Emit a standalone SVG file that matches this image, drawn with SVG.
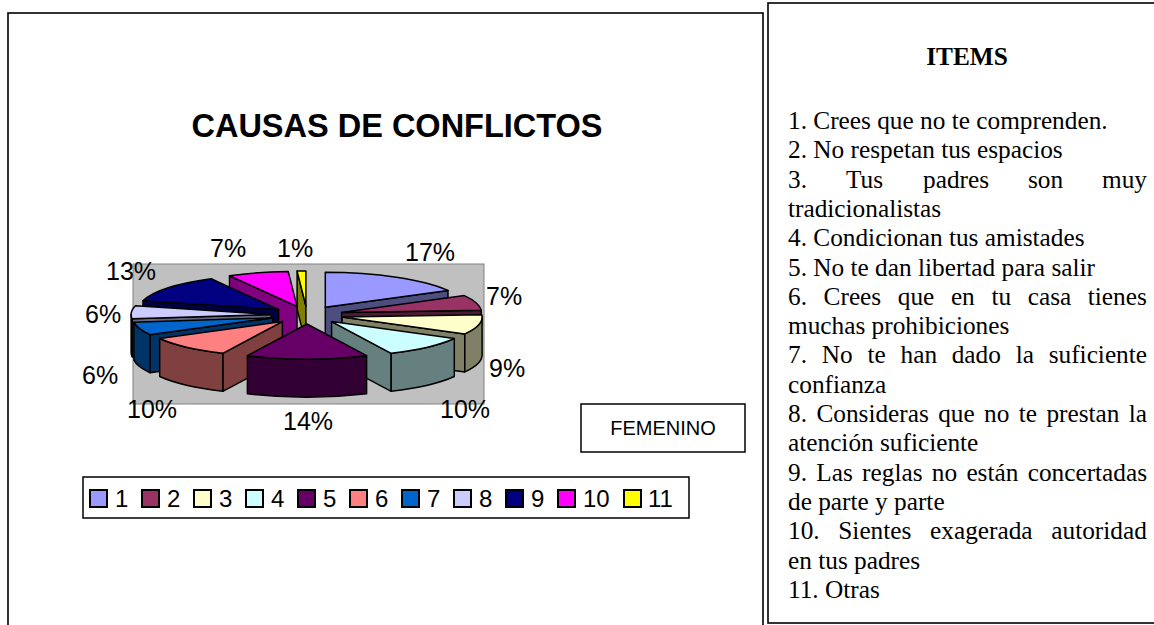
<svg xmlns="http://www.w3.org/2000/svg" width="1154" height="625" viewBox="0 0 1154 625">
<style>
.frame{fill:#fff;stroke:#000;stroke-width:1.6}
.title{font-family:"Liberation Sans",Arial,sans-serif;font-weight:bold;font-size:32.5px;fill:#000}
.lbl{font-family:"Liberation Sans",Arial,sans-serif;font-size:25px;fill:#000}
.leg{font-family:"Liberation Sans",Arial,sans-serif;font-size:24px;fill:#000}
.sw{stroke:#000;stroke-width:2}
.fem{font-family:"Liberation Sans",Arial,sans-serif;font-size:20px;fill:#000}
.items{font-family:"Liberation Serif","Times New Roman",serif;font-size:25.3px;fill:#000}
.ih{font-family:"Liberation Serif","Times New Roman",serif;font-size:25.3px;font-weight:bold;fill:#000}
.pie path,.pie polygon{stroke:#000;stroke-width:1.5;stroke-linejoin:round}
</style>
<rect width="1154" height="625" fill="#fff"/>
<g id="chart-frame"><rect class="frame" x="8" y="13" width="755" height="640"/></g>
<g id="items-frame"><rect class="frame" x="768" y="3" width="400" height="620"/></g>
<g id="title"><text class="title" x="397" y="137" text-anchor="middle">CAUSAS DE CONFLICTOS</text></g>
<g id="plot-area"><rect x="133" y="264" width="351" height="140" fill="#C0C0C0" stroke="#808080" stroke-width="1"/></g>
<g class="pie" id="pie">
<g id="slice-11"><polygon points="305.9,306 297.1,271.1 297.1,309.1 305.9,344" fill="#808000"/><path d="M305.9,306 L297.1,271.1 A140,35 0 0 1 305.9,271 Z" fill="#FFFF00"/></g>
<g id="slice-10"><polygon points="297,306.4 229.5,275.7 229.5,313.7 297,344.4" fill="#800080"/><path d="M297,306.4 L229.5,275.7 A140,35 0 0 1 288.2,271.5 Z" fill="#FF00FF"/></g>
<g id="slice-1"><polygon points="325.3,307.3 448,290.4 448,328.4 325.3,345.3" fill="#4D4D80"/><path d="M325.3,307.3 L325.3,272.3 A140,35 0 0 1 448,290.4 Z" fill="#9999FF"/></g>
<g id="slice-9"><polygon points="278.6,309.5 143,300.8 143,338.8 278.6,347.5" fill="#000040"/><path d="M278.6,309.5 L143,300.8 A140,35 0 0 1 211.1,278.8 Z" fill="#000080"/></g>
<g id="slice-2"><polygon points="341.6,312.5 481.3,310.3 481.3,348.3 341.6,350.5" fill="#4D1A33"/><path d="M341.6,312.5 L464.3,295.6 A140,35 0 0 1 481.3,310.3 Z" fill="#993366"/></g>
<g id="slice-8"><polygon points="271.1,314.4 132.2,318.8 132.2,356.8 271.1,352.4" fill="#666680"/><path d="M132.2,318.8 A140,35 0 0 1 131.1,314.4 L131.1,352.4 A140,35 0 0 0 132.2,356.8 Z" fill="#666680"/><path d="M271.1,314.4 L132.2,318.8 A140,35 0 0 1 135.5,305.7 Z" fill="#CCCCFF"/></g>
<g id="slice-3"><polygon points="342.1,317 464.8,333.9 464.8,371.9 342.1,355" fill="#808066"/><path d="M482.1,317 A140,35 0 0 1 464.8,333.9 L464.8,371.9 A140,35 0 0 0 482.1,355 Z" fill="#808066"/><path d="M342.1,317 L481.8,314.8 A140,35 0 0 1 464.8,333.9 Z" fill="#FFFFCC"/></g>
<g id="slice-7"><polygon points="272.8,317.8 150.1,334.7 150.1,372.7 272.8,355.8" fill="#003366"/><path d="M150.1,334.7 A140,35 0 0 1 133.9,322.2 L133.9,360.2 A140,35 0 0 0 150.1,372.7 Z" fill="#003366"/><path d="M272.8,317.8 L150.1,334.7 A140,35 0 0 1 133.9,322.2 Z" fill="#0066CC"/></g>
<g id="slice-4"><polygon points="331.6,321.6 391.2,353.3 391.2,391.3 331.6,359.6" fill="#668080"/><path d="M454.3,338.5 A140,35 0 0 1 391.2,353.3 L391.2,391.3 A140,35 0 0 0 454.3,376.5 Z" fill="#668080"/><path d="M331.6,321.6 L454.3,338.5 A140,35 0 0 1 391.2,353.3 Z" fill="#CCFFFF"/></g>
<g id="slice-6"><polygon points="282.4,321.6 222.8,353.3 222.8,391.3 282.4,359.6" fill="#804040"/><path d="M222.8,353.3 A140,35 0 0 1 159.7,338.5 L159.7,376.5 A140,35 0 0 0 222.8,391.3 Z" fill="#804040"/><path d="M282.4,321.6 L222.8,353.3 A140,35 0 0 1 159.7,338.5 Z" fill="#FF8080"/></g>
<g id="slice-5"><path d="M366.6,355.7 A140,35 0 0 1 247.4,355.7 L247.4,393.7 A140,35 0 0 0 366.6,393.7 Z" fill="#330033"/><path d="M307,324 L366.6,355.7 A140,35 0 0 1 247.4,355.7 Z" fill="#660066"/></g>
</g>
<g id="data-labels">
<text class="lbl" x="405" y="261">17%</text>
<text class="lbl" x="486" y="305">7%</text>
<text class="lbl" x="489" y="377">9%</text>
<text class="lbl" x="440" y="418">10%</text>
<text class="lbl" x="283" y="430">14%</text>
<text class="lbl" x="127" y="418">10%</text>
<text class="lbl" x="82" y="384">6%</text>
<text class="lbl" x="85" y="323">6%</text>
<text class="lbl" x="106" y="280">13%</text>
<text class="lbl" x="210" y="257">7%</text>
<text class="lbl" x="277" y="257">1%</text>
</g>
<g id="legend">
<rect x="83" y="477" width="606" height="41" fill="#fff" stroke="#000" stroke-width="1.5"/>
<rect class="sw" x="90" y="490" width="17" height="17" fill="#9999FF"/><text class="leg" x="115" y="507">1</text>
<rect class="sw" x="142" y="490" width="17" height="17" fill="#993366"/><text class="leg" x="167" y="507">2</text>
<rect class="sw" x="194" y="490" width="17" height="17" fill="#FFFFCC"/><text class="leg" x="219" y="507">3</text>
<rect class="sw" x="246" y="490" width="17" height="17" fill="#CCFFFF"/><text class="leg" x="271" y="507">4</text>
<rect class="sw" x="298" y="490" width="17" height="17" fill="#660066"/><text class="leg" x="323" y="507">5</text>
<rect class="sw" x="350" y="490" width="17" height="17" fill="#FF8080"/><text class="leg" x="375" y="507">6</text>
<rect class="sw" x="402" y="490" width="17" height="17" fill="#0066CC"/><text class="leg" x="427" y="507">7</text>
<rect class="sw" x="454" y="490" width="17" height="17" fill="#CCCCFF"/><text class="leg" x="479" y="507">8</text>
<rect class="sw" x="506" y="490" width="17" height="17" fill="#000080"/><text class="leg" x="531" y="507">9</text>
<rect class="sw" x="558" y="490" width="17" height="17" fill="#FF00FF"/><text class="leg" x="583" y="507">10</text>
<rect class="sw" x="624" y="490" width="17" height="17" fill="#FFFF00"/><text class="leg" x="648" y="507">11</text>
</g>
<g id="femenino">
<rect x="581" y="404" width="164" height="48" fill="#fff" stroke="#000" stroke-width="1.5"/>
<text class="fem" x="663" y="435" text-anchor="middle">FEMENINO</text>
</g>
<g id="items">
<text class="ih" x="967" y="65" text-anchor="middle">ITEMS</text>
<text class="items" x="788" y="129">1. Crees que no te comprenden.</text>
<text class="items" x="788" y="158.3">2. No respetan tus espacios</text>
<text class="items" y="187.6"><tspan x="788">3.</tspan><tspan x="846">Tus</tspan><tspan x="923">padres</tspan><tspan x="1028">son</tspan><tspan x="1102">muy</tspan></text>
<text class="items" x="788" y="216.9">tradicionalistas</text>
<text class="items" x="788" y="246.2">4. Condicionan tus amistades</text>
<text class="items" x="788" y="275.5">5. No te dan libertad para salir</text>
<text class="items" y="304.8"><tspan x="788">6.</tspan><tspan x="823.6">Crees</tspan><tspan x="897.8">que</tspan><tspan x="950.9">en</tspan><tspan x="991.4">tu</tspan><tspan x="1027.7">casa</tspan><tspan x="1087.8">tienes</tspan></text>
<text class="items" x="788" y="334.1">muchas prohibiciones</text>
<text class="items" y="363.4"><tspan x="788">7.</tspan><tspan x="821.7">No</tspan><tspan x="867.4">te</tspan><tspan x="900.5">han</tspan><tspan x="951.7">dado</tspan><tspan x="1015.7">la</tspan><tspan x="1048.7">suficiente</tspan></text>
<text class="items" x="788" y="392.7">confianza</text>
<text class="items" y="422"><tspan x="788">8.</tspan><tspan x="816.4">Consideras</tspan><tspan x="938.2">que</tspan><tspan x="984.1">no</tspan><tspan x="1018.7">te</tspan><tspan x="1046.4">prestan</tspan><tspan x="1128.8">la</tspan></text>
<text class="items" x="788" y="451.3">atención suficiente</text>
<text class="items" y="480.6"><tspan x="788">9.</tspan><tspan x="816.3">Las</tspan><tspan x="862.1">reglas</tspan><tspan x="931.8">no</tspan><tspan x="966.4">están</tspan><tspan x="1027.7">concertadas</tspan></text>
<text class="items" x="788" y="509.9">de parte y parte</text>
<text class="items" y="539.2"><tspan x="788">10.</tspan><tspan x="838.3">Sientes</tspan><tspan x="930.1">exagerada</tspan><tspan x="1051.3">autoridad</tspan></text>
<text class="items" x="788" y="568.5">en tus padres</text>
<text class="items" x="788" y="597.8">11. Otras</text>
</g>
</svg>
